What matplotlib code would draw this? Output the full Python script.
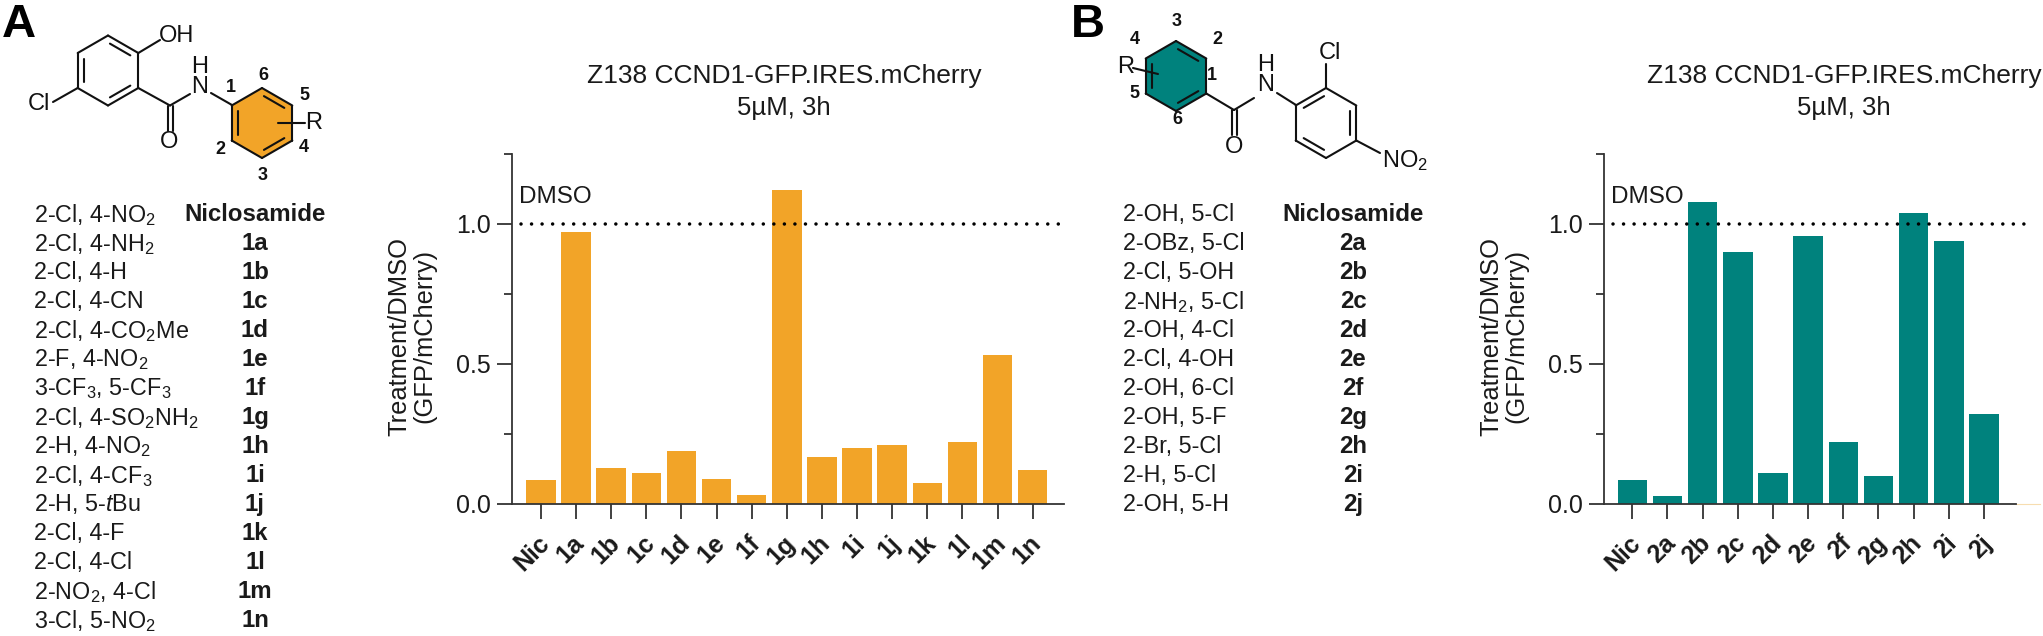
import numpy as np
import matplotlib
matplotlib.use("Agg")
import matplotlib.pyplot as plt
from matplotlib.patches import Polygon

plt.rcParams['font.family'] = ['Liberation Sans', 'DejaVu Sans']
plt.rcParams['mathtext.fontset'] = 'custom'
plt.rcParams['mathtext.rm'] = 'Liberation Sans'
plt.rcParams['mathtext.it'] = 'Liberation Sans:italic'
plt.rcParams['mathtext.bf'] = 'Liberation Sans:bold'
plt.rcParams['mathtext.default'] = 'regular'

# ---- data ----
labels_a = ['Nic', '1a', '1b', '1c', '1d', '1e', '1f', '1g', '1h', '1i', '1j', '1k', '1l', '1m', '1n']
values_a = [0.083, 0.97, 0.126, 0.108, 0.189, 0.088, 0.03, 1.12, 0.168, 0.198, 0.209, 0.073, 0.22, 0.53, 0.119]
labels_b = ['Nic', '2a', '2b', '2c', '2d', '2e', '2f', '2g', '2h', '2i', '2j']
values_b = [0.084, 0.026, 1.079, 0.90, 0.11, 0.958, 0.22, 0.10, 1.04, 0.938, 0.32]

subst_a = ['2-Cl, 4-NO$_2$', '2-Cl, 4-NH$_2$', '2-Cl, 4-H', '2-Cl, 4-CN', '2-Cl, 4-CO$_2$Me', '2-F, 4-NO$_2$',
           '3-CF$_3$, 5-CF$_3$', '2-Cl, 4-SO$_2$NH$_2$', '2-H, 4-NO$_2$', '2-Cl, 4-CF$_3$', '2-H, 5-$\\mathit{t}$Bu',
           '2-Cl, 4-F', '2-Cl, 4-Cl', '2-NO$_2$, 4-Cl', '3-Cl, 5-NO$_2$']
names_a = ['Niclosamide', '1a', '1b', '1c', '1d', '1e', '1f', '1g', '1h', '1i', '1j', '1k', '1l', '1m', '1n']
subst_b = ['2-OH, 5-Cl', '2-OBz, 5-Cl', '2-Cl, 5-OH', '2-NH$_2$, 5-Cl', '2-OH, 4-Cl', '2-Cl, 4-OH',
           '2-OH, 6-Cl', '2-OH, 5-F', '2-Br, 5-Cl', '2-H, 5-Cl', '2-OH, 5-H']
names_b = ['Niclosamide', '2a', '2b', '2c', '2d', '2e', '2f', '2g', '2h', '2i', '2j']

ORANGE = '#F2A428'
TEAL = '#00827D'
INK = '#1a1a1a'
W, H = 2043, 636
PX = 0.72  # points per pixel at dpi 100

fig = plt.figure(figsize=(W / 100, H / 100), dpi=100)
ov = fig.add_axes([0, 0, 1, 1], zorder=0)
ov.set_xlim(0, W)
ov.set_ylim(H, 0)
ov.axis('off')


def chart(left, right, first, step, labels, values, color, ylab_x, title_x, dotted, dmso_x):
    bottom, top = 503.5, 154
    ax = fig.add_axes([left / W, 1 - bottom / H, (right - left) / W, (bottom - top) / H], zorder=1)
    ax.patch.set_alpha(0)
    x = np.arange(len(values))
    ax.bar(x, values, width=0.84, color=color, edgecolor='none', zorder=2)
    ax.set_xlim((left - first) / step, (right - first) / step)
    ax.set_ylim(0, 1.25)
    for s in ('top', 'right'):
        ax.spines[s].set_visible(False)
    for s in ('left', 'bottom'):
        ax.spines[s].set_linewidth(1.5 * PX * 1.2)
        ax.spines[s].set_color('#333333')
    ax.set_yticks([0, 0.5, 1.0])
    ax.set_yticklabels(['0.0', '0.5', '1.0'], fontsize=18, color=INK)
    ax.set_yticks([0.25, 0.75, 1.25], minor=True)
    ax.tick_params(axis='y', which='major', length=15.5 * PX, width=1.3, pad=4, color='#333333')
    ax.tick_params(axis='y', which='minor', length=8.5 * PX, width=1.3, color='#333333')
    ax.set_xticks(x)
    ax.set_xticklabels(labels, rotation=45, ha='right', rotation_mode='anchor',
                       fontsize=18, fontweight='bold', color=INK)
    ax.tick_params(axis='x', length=15 * PX, width=1.3, pad=9, color='#333333')
    for lab in ax.get_xticklabels():
        lab.set_transform(lab.get_transform() + matplotlib.transforms.ScaledTranslation(-4 / 100, 0, fig.dpi_scale_trans))
    xd0 = (dotted[0] - first) / step
    xd1 = (dotted[1] - first) / step
    ax.plot([xd0, xd1], [1.0, 1.0], color='black', lw=3.5 * PX,
            linestyle=(0, (0.01, 3.0)), dash_capstyle='round', zorder=3, clip_on=False)
    ov.text(dmso_x, 197, 'DMSO', fontsize=17.5, color=INK, va='center', ha='left')
    ov.text(ylab_x, 336, 'Treatment/DMSO\n(GFP/mCherry)', rotation=90, fontsize=18.4, color=INK,
            ha='center', va='center', linespacing=1.08)
    ov.text(title_x, 76, 'Z138 CCND1-GFP.IRES.mCherry', fontsize=19, color=INK, ha='center', va='center')
    ov.text(title_x, 108, '5µM, 3h', fontsize=18.5, color=INK, ha='center', va='center')
    return ax


chart(512, 1064, 541, 35.12, labels_a, values_a, ORANGE, 412, 784, (521, 1062), 519)
ax_b = chart(1603.7, 2016, 1632.3, 35.17, labels_b, values_b, TEAL, 1504, 1844, (1613, 2024), 1611)
ov.plot([2016, 2040], [503.5, 503.5], color='#F7DDB0', lw=0.8)

# ---- compound tables ----
for subs, names, tx, nx in ((subst_a, names_a, 34, 255), (subst_b, names_b, 1123, 1353)):
    for i, (s, n) in enumerate(zip(subs, names)):
        y = 212 + 29 * i
        ov.text(tx, y, s, fontsize=16.8, color=INK, ha='left', va='center_baseline')
        ov.text(nx, y, n, fontsize=17.3, fontweight='bold', color=INK, ha='center', va='center_baseline')

# ---- panel letters ----
ov.text(2, 37, 'A', fontsize=34, fontweight='bold', color='black', ha='left', va='baseline')
ov.text(1071, 37, 'B', fontsize=34, fontweight='bold', color='black', ha='left', va='baseline')


# ---- chemical structures (decoration, in pixel coordinates) ----
def bond(a, b, lw=1.9):
    ov.plot([a[0], b[0]], [a[1], b[1]], color='#111111', lw=lw * PX * 1.1, solid_capstyle='round', zorder=3)


def ring(cx, cy, fill=None, inner=((1, 2), (3, 4), (5, 0)), r=35):
    ang = np.deg2rad(np.array([-90, -30, 30, 90, 150, 210]))
    pts = np.c_[cx + r * np.cos(ang), cy + r * np.sin(ang)]
    if fill:
        ov.add_patch(Polygon(pts, closed=True, facecolor=fill, edgecolor='none', zorder=2))
    for i in range(6):
        bond(pts[i], pts[(i + 1) % 6])
    c = np.array([cx, cy])
    for i, j in inner:
        a = c + (pts[i] - c) * 0.8
        b = c + (pts[j] - c) * 0.8
        a2 = a + (b - a) * 0.08
        b2 = b - (b - a) * 0.08
        bond(a2, b2)
    return pts


def atom(x, y, s, size=17, weight='normal', ha='center'):
    ov.text(x, y, s, fontsize=size, fontweight=weight, color='#111111', ha=ha, va='center', zorder=4)


# panel A
p = ring(108, 70.5, inner=((0, 1), (2, 3), (4, 5)))
bond(p[1], (160, 40))
atom(177, 36, 'OH')
bond(p[4], (53, 102))
atom(39, 104, 'Cl')
c = (170, 105.5)
bond(p[2], c)
bond((168, 105.5), (168, 131))
bond((173, 105.5), (173, 131))
atom(169, 142, 'O')
bond(c, (190, 94))
atom(200, 87, 'N')
atom(200, 67, 'H')
bond((211, 93), (232, 105))
p = ring(262, 123, fill=ORANGE, inner=((4, 5), (0, 1), (2, 3)))
bond((278, 123), (305, 123))
atom(314, 123, 'R')
for x, y, s in ((231, 88, '1'), (220, 149, '2'), (263, 175, '3'), (304, 147, '4'), (304, 96, '5'), (263, 76, '6')):
    atom(x, y, s, size=13, weight='bold')

# panel B
p = ring(1176, 76, fill=TEAL, inner=((0, 1), (2, 3), (4, 5)))
bond((1133, 68), (1158, 74))
atom(1126, 67, 'R')
for x, y, s in ((1212, 75, '1'), (1217, 39, '2'), (1177, 21, '3'), (1135, 39, '4'), (1134, 93, '5'), (1177, 120, '6')):
    atom(x, y, s, size=13, weight='bold')
c = (1234, 110)
bond(p[2], c)
bond((1232, 110), (1232, 135))
bond((1237, 110), (1237, 135))
atom(1234, 147, 'O')
bond(c, (1254, 98))
atom(1266, 85, 'N')
atom(1266, 65, 'H')
bond((1277, 93), (1296, 105))
p = ring(1326, 123, inner=((5, 0), (1, 2), (3, 4)))
bond(p[0], (1326, 64))
atom(1330, 53, 'Cl')
bond(p[2], (1380, 153))
atom(1382, 161, 'NO$_2$', ha='left')

fig.savefig('out.png', dpi=100)
